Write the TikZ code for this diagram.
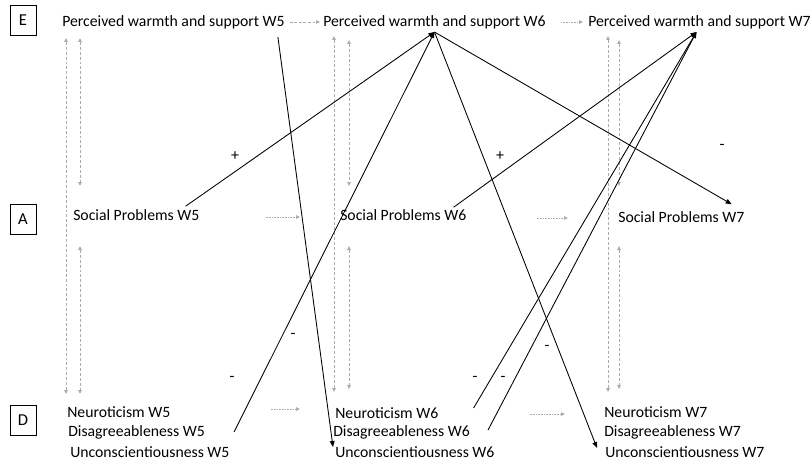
\documentclass[tikz,border=0pt]{standalone}
\usepackage{fontspec}
\setmainfont{Carlito}
\usetikzlibrary{arrows.meta,calc}
\begin{document}
\begin{tikzpicture}[x=0.75pt,y=-0.75pt,
  lbl/.style={font=\fontsize{11.8}{14}\selectfont, inner sep=0pt, anchor=west},
  sign/.style={font=\fontsize{12}{14}\selectfont, inner sep=0pt},
  boxlbl/.style={draw, line width=0.6pt, minimum width=19.5pt, minimum height=22.5pt, inner sep=0pt, font=\fontsize{12.5}{14}\selectfont},
  causal/.style={line width=0.65pt, -{Triangle[length=4.5pt,width=3.6pt]}},
  corr/.style={draw=gray!65, line width=0.6pt, dash pattern=on 2.2pt off 1.5pt,
    {Triangle[length=3pt,width=2.8pt]}-{Triangle[length=3pt,width=2.8pt]}},
  lagdash/.style={draw=gray!65, line width=0.6pt, dash pattern=on 2.2pt off 1.2pt,
    -{Triangle[length=3pt,width=2.8pt]}},
  lagdot/.style={draw=gray!65, line width=0.6pt, dash pattern=on 0.6pt off 0.6pt,
    -{Triangle[length=3pt,width=2.8pt]}}]
\useasboundingbox (0,0) rectangle (812,467);

% construct boxes
\node[boxlbl] (bE) at (23,20) {E};
\node[boxlbl] (bA) at (23,219) {A};
\node[boxlbl] (bD) at (23,420) {D};

% row E
\node[lbl] (pw5) at (62,22) {Perceived warmth and support W5};
\node[lbl] (pw6) at (323,22) {Perceived warmth and support W6};
\node[lbl] (pw7) at (588,22) {Perceived warmth and support W7};
% row A
\node[lbl] (sp5) at (73,215) {Social Problems W5};
\node[lbl] (sp6) at (340,215) {Social Problems W6};
\node[lbl] (sp7) at (618,217) {Social Problems W7};
% row D
\node[lbl] (neu5) at (67,412) {Neuroticism W5};
\node[lbl] (dis5) at (68,432) {Disagreeableness W5};
\node[lbl] (unc5) at (70,452) {Unconscientiousness W5};
\node[lbl] (neu6) at (335,413) {Neuroticism W6};
\node[lbl] (dis6) at (333,432) {Disagreeableness W6};
\node[lbl] (unc6) at (335,452) {Unconscientiousness W6};
\node[lbl] (neu7) at (604,412) {Neuroticism W7};
\node[lbl] (dis7) at (604,432) {Disagreeableness W7};
\node[lbl] (unc7) at (605,452) {Unconscientiousness W7};

% convergence points
\coordinate (in6) at ($(pw6.south)+(0,3)$);
\coordinate (in7) at ($(pw7.south)+(-3,3)$);

% autoregressive lags
\draw[lagdash] ($(pw5.east)+(5,0)$) -- ($(pw6.west)+(-3,0)$);
\draw[lagdot]  ($(pw6.east)+(15,0)$) -- ($(pw7.west)+(-5,0)$);
\draw[lagdot]  ($(sp5.east)+(66,2)$) -- ($(sp6.west)+(-40,2)$);
\draw[lagdot]  ($(sp6.east)+(70,3)$) -- ($(sp7.west)+(-50,1)$);
\draw[lagdot]  ($(neu5.east)+(100,-3)$) -- ($(neu6.west)+(-35,-4)$);
\draw[lagdot]  ($(neu6.east)+(91,1)$) -- ($(neu7.west)+(-39,2)$);

% within-wave correlations (column coordinates)
\coordinate (c1L) at (66,0);  \coordinate (c1R) at (80,0);
\coordinate (c2L) at (334,0); \coordinate (c2R) at (349,0);
\coordinate (c3L) at (608,0); \coordinate (c3R) at (619,0);
\coordinate (t1) at (0,38);  \coordinate (t2) at (0,36); \coordinate (t3) at (0,40);
\coordinate (mA) at (0,186); \coordinate (mB) at (0,246);
\coordinate (b1) at (0,394); \coordinate (b2) at (0,392); \coordinate (b3) at (0,389);

\draw[corr] (c1L |- t1) -- (c1L |- b1);
\draw[corr] (c1R |- t1) -- (c1R |- mA);
\draw[corr] (c1R |- mB) -- (c1R |- b1);
\draw[corr] (c2L |- t2) -- (c2L |- b2);
\draw[corr] (c2R |- t3) -- (c2R |- mA);
\draw[corr] (c2R |- mB) -- (c2R |- b3);
\draw[corr] (c3L |- t2) -- (c3L |- b2);
\draw[corr] (c3R |- t3) -- (c3R |- mA);
\draw[corr] (c3R |- mB) -- (c3R |- b3);

% cross-lagged paths
\draw[causal] ($(pw5.south east)+(-7,8)$) -- ($(unc6.west)+(-2,-5)$);
\draw[causal] ($(sp5.north east)+(-14,-3)$) -- (in6);
\draw[causal] ($(dis5.east)+(29,0)$) -- (in6);
\draw[causal] (in6) -- ($(unc7.west)+(-8,-4)$);
\draw[causal] (in6) -- ($(sp7.north east)+(-13,-7)$);
\draw[causal] ($(sp6.north east)+(-13,-2)$) -- (in7);
\draw[causal] ($(neu6.east)+(35,-5)$) -- (in7);
\draw[causal] ($(dis6.east)+(18,-2)$) -- (in7);

% signs
\node[sign] (s1) at (235,156) {+};
\node[sign] (s2) at (500,156) {+};
\node[sign] (s3) at (293,336) {-};
\node[sign] (s4) at (232,379) {-};
\node[sign] (s5) at (547,348) {-};
\node[sign] (s6) at (722,147) {-};
\node[sign] (s7) at (475,379) {-};
\node[sign] (s8) at (503,379) {-};
\end{tikzpicture}
\end{document}
